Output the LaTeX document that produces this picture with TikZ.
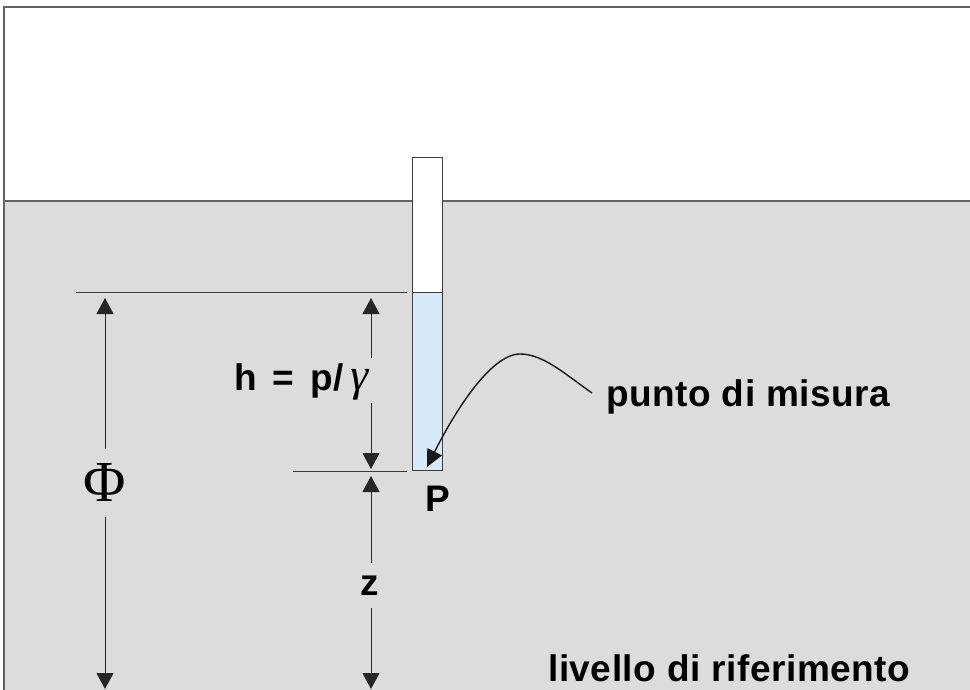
\documentclass[tikz,border=0pt]{standalone}
\usepackage{fontspec}
\setmainfont{Liberation Sans}
\newfontfamily\labfont[LetterSpace=1.5]{Liberation Sans}
\newfontfamily\serifgr{Liberation Serif}
\usetikzlibrary{arrows.meta}
\definecolor{ground}{HTML}{DCDCDC}
\definecolor{water}{HTML}{D6E9F8}
\definecolor{edge}{HTML}{3C3C3C}
\begin{document}
\begin{tikzpicture}[x=1pt,y=-1pt,
  dimline/.style={draw=edge,line width=1pt},
  dimarrow/.style={draw=black!85,line width=1pt,-{Triangle[length=16pt,width=17pt]}},
  lab/.style={font=\labfont\fontsize{37}{40}\selectfont\bfseries,inner sep=0pt,text=black},
  border/.style={draw=edge!80,line width=1.2pt}]
\useasboundingbox (0,0) rectangle (970,690);
\fill[white] (0,0) rectangle (970,690);
% ground
\fill[ground] (4,201) rectangle (972,692);
\draw[border] (4,201) -- (972,201);
\draw[border] (4,692) -- (4,7) -- (972,7);
% tube
\node[draw=edge,fill=white,line width=1pt,minimum width=30pt,minimum height=135pt,inner sep=0pt,anchor=north west] (tubetop) at (412,157) {};
\node[draw=edge,fill=water,line width=1pt,minimum width=30pt,minimum height=178pt,inner sep=0pt,anchor=north west] (tube) at (412,292) {};
% reference lines
\coordinate (l1a) at (76,292); \coordinate (l1b) at (407,292);
\coordinate (l2a) at (293,471); \coordinate (l2b) at (407,471);
\draw[dimline] (l1a) -- (l1b);
\draw[dimline] (l2a) -- (l2b);
% Phi dimension
\node[font=\serifgr\fontsize{58}{60}\selectfont,inner sep=0pt] (phi) at (105,483) {Φ};
\coordinate (phitop) at (105,298); \coordinate (phibot) at (105,689);
\draw[dimarrow] (105,449) -- (phitop);
\draw[dimarrow] (105,517) -- (phibot);
% h dimension
\node[lab,anchor=east] (hlab) at (369,382) {h\kern5pt\ =\kern5pt\ p/\kern7pt{\serifgr\mdseries\itshape\fontsize{46}{48}\selectfont γ}};
\coordinate (htop) at (371,298); \coordinate (hbot) at (371,469);
\draw[dimarrow] (371,358) -- (htop);
\draw[dimarrow] (371,403) -- (hbot);
% z dimension
\node[lab] (zlab) at (370,586) {z};
\coordinate (ztop) at (371,476); \coordinate (zbot) at (371,689);
\draw[dimarrow] (371,563) -- (ztop);
\draw[dimarrow] (371,608) -- (zbot);
% P and labels
\node[lab] (P) at (438,499) {P};
\node[lab,anchor=west] (punto) at (606,397) {punto di misura};
\node[lab,anchor=west] (livello) at (548,668) {livello di riferimento};
\coordinate (tip) at (427,467);
\draw[line width=1.4pt,draw=black!90,-{Triangle[length=17pt,width=16pt]}]
  (592,393) .. controls (565,374) and (543,354) .. (520,354)
  .. controls (490,354) and (453,415) .. (tip);
\end{tikzpicture}
\end{document}
